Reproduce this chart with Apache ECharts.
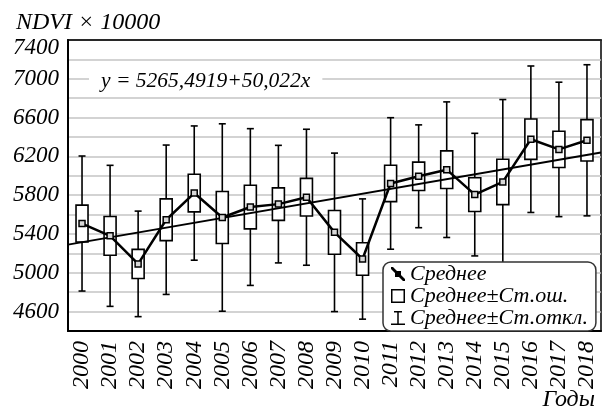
<!DOCTYPE html>
<html>
<head>
<meta charset="utf-8">
<script src="https://cdn.jsdelivr.net/npm/echarts@6/dist/echarts.min.js"></script>
<style>html,body{margin:0;padding:0;background:#fff;}#c{width:602px;height:410px;}</style>
</head>
<body>
<div id="c"></div>
<script>
const years = ['2000','2001','2002','2003','2004','2005','2006','2007','2008','2009','2010','2011','2012','2013','2014','2015','2016','2017','2018'];
const means = [5508,5381,5092,5547,5822,5570,5678,5708,5779,5417,5142,5921,5995,6063,5806,5937,6377,6272,6366];
const stdErr = [190,200,150,215,194,268,225,168,194,225,168,187,146,194,174,234,208,187,213];
const stdDev = [696,727,544,770,692,966,808,606,701,817,620,678,530,699,632,849,755,693,779];
const yTicks = [4600,5000,5400,5800,6200,6600,7000,7400];
const regA = 5265.4919, regB = 50.022;

const FONT = '"Liberation Serif", "Times New Roman", serif';
const rows = years.map((y, i) => [i, means[i], stdErr[i], stdDev[i]]);
const regLine = [[0.5, regA + regB * 0.5], [19.5, regA + regB * 19.5]];

const chart = echarts.init(document.getElementById('c'), null, {renderer: 'canvas'});
chart.setOption({
  animation: false,
  backgroundColor: '#fff',
  title: [
    {text: 'NDVI × 10000', left: 11, top: 6, textStyle: {fontFamily: FONT, fontStyle: 'italic', fontWeight: 'normal', fontSize: 24, color: '#000'}},
    {text: 'Годы', right: 2, top: 383, textStyle: {fontFamily: FONT, fontStyle: 'italic', fontWeight: 'normal', fontSize: 24, color: '#000'}}
  ],
  grid: {left: 68, right: 1, top: 40, bottom: 79, show: true, borderColor: '#000', borderWidth: 1.5, backgroundColor: 'transparent'},
  xAxis: [
    {type: 'category', data: years, boundaryGap: true, position: 'bottom',
     axisLine: {lineStyle: {color: '#000', width: 2}},
     axisTick: {inside: true, alignWithLabel: true, length: 6, lineStyle: {color: '#000', width: 1.5}},
     axisLabel: {rotate: 90, interval: 0, margin: 10, fontFamily: FONT, fontStyle: 'italic', fontSize: 24, color: '#000'},
     splitLine: {show: false}},
    {type: 'category', data: years, boundaryGap: true, position: 'top',
     axisLine: {lineStyle: {color: '#000', width: 1.5}},
     axisTick: {inside: true, alignWithLabel: true, interval: 0, length: 6, lineStyle: {color: '#000', width: 1.5}},
     axisLabel: {show: false}, splitLine: {show: false}},
    {type: 'value', min: 0.5, max: 19.5, show: false}
  ],
  yAxis: {
    type: 'value', min: 4400, max: 7400, interval: 200,
    axisLine: {show: true, lineStyle: {color: '#000', width: 2}},
    axisTick: {show: false},
    axisLabel: {margin: 9, fontFamily: FONT, fontStyle: 'italic', fontSize: 23, color: '#000',
      formatter: v => yTicks.indexOf(v) < 0 ? '' : (v === 7400 ? '{t|' + v + '}' : String(v)),
      rich: {t: {fontFamily: FONT, fontStyle: 'italic', fontSize: 23, color: '#000', padding: [16, 0, 0, 0]}}},
    splitLine: {show: true, lineStyle: {color: '#c4c4c4', width: 1.5}}
  },
  legend: {
    orient: 'vertical', left: 383, top: 262, padding: [1, 8, 2, 8], itemGap: 0,
    itemWidth: 14, itemHeight: 14,
    backgroundColor: '#fff', borderColor: '#333', borderWidth: 1.5, borderRadius: 8,
    textStyle: {fontFamily: FONT, fontStyle: 'italic', fontSize: 22, color: '#000'},
    data: [
      {name: 'Среднее', icon: 'path://M0,0 L2,0 L14,12 L14,14 L12,14 L0,2 Z M4,4 H10 V10 H4 Z', itemStyle: {color: '#000', borderWidth: 0}},
      {name: 'Среднее±Ст.ош.', icon: 'path://M0,0 H14 V14 H0 Z M1.5,1.5 V12.5 H12.5 V1.5 Z', itemStyle: {color: '#000', borderWidth: 0}},
      {name: 'Среднее±Ст.откл.', icon: 'path://M3,0 H11 V1.5 H7.75 V12.5 H14 V14 H0 V12.5 H6.25 V1.5 H3 Z', itemStyle: {color: '#000', borderWidth: 0}}
    ]
  },
  graphic: [
    {type: 'text', left: 89, top: 68, z: 50,
     style: {text: 'y = 5265,4919+50,022x', font: 'italic 21.5px ' + FONT, fill: '#000', backgroundColor: '#fff', padding: [2, 12, 2, 12]}}
  ],
  series: [
    {name: 'Среднее±Ст.откл.', type: 'custom', xAxisIndex: 0, z: 2,
     itemStyle: {color: '#000'},
     encode: {x: 0, y: 1},
     data: rows,
     renderItem: function (params, api) {
       const i = api.value(0), m = api.value(1), sd = api.value(3);
       const top = api.coord([i, m + sd]);
       const bot = api.coord([i, m - sd]);
       const cap = 3.5;
       const st = {stroke: '#000', lineWidth: 1.6};
       return {type: 'group', children: [
         {type: 'line', shape: {x1: top[0], y1: top[1], x2: bot[0], y2: bot[1]}, style: st},
         {type: 'line', shape: {x1: top[0] - cap, y1: top[1], x2: top[0] + cap, y2: top[1]}, style: st},
         {type: 'line', shape: {x1: bot[0] - cap, y1: bot[1], x2: bot[0] + cap, y2: bot[1]}, style: st}
       ]};
     }},
    {name: 'Среднее±Ст.ош.', type: 'custom', xAxisIndex: 0, z: 3,
     itemStyle: {color: '#000'},
     encode: {x: 0, y: 1},
     data: rows,
     renderItem: function (params, api) {
       const i = api.value(0), m = api.value(1), se = api.value(2);
       const top = api.coord([i, m + se]);
       const bot = api.coord([i, m - se]);
       const w = 12;
       return {type: 'rect', shape: {x: top[0] - w / 2, y: top[1], width: w, height: bot[1] - top[1]},
               style: {fill: '#fff', stroke: '#000', lineWidth: 1.6}};
     }},
    {name: 'Регрессия', type: 'line', xAxisIndex: 2, z: 4, data: regLine, symbol: 'none',
     lineStyle: {color: '#000', width: 2}, silent: true},
    {name: 'Среднее', type: 'line', xAxisIndex: 0, z: 5, data: means,
     symbol: 'rect', symbolSize: 6,
     lineStyle: {color: '#000', width: 2.5},
     itemStyle: {color: '#d8d8d8', borderColor: '#000', borderWidth: 1.5}}
  ]
});
</script>
</body>
</html>
